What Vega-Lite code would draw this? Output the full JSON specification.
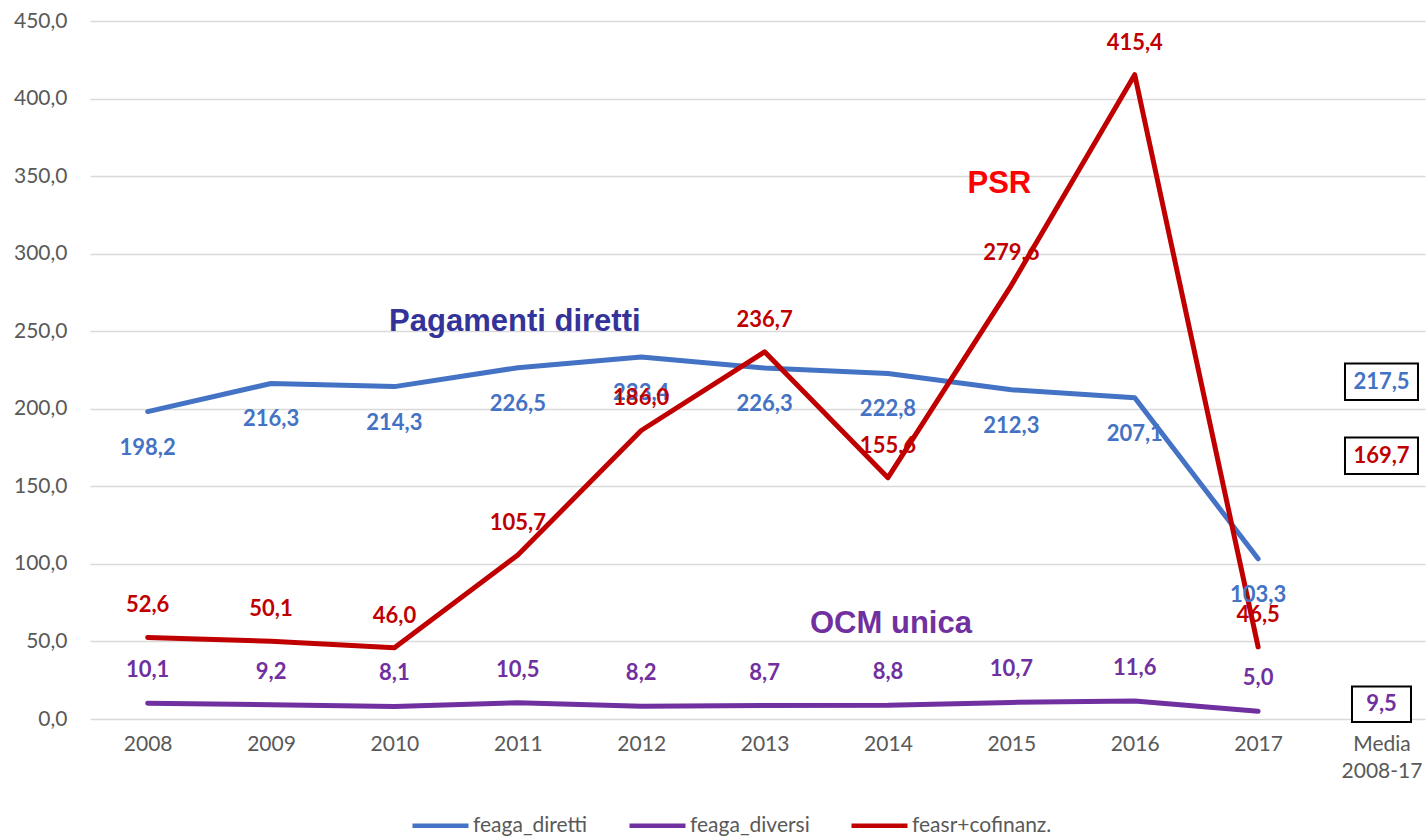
{
  "$schema": "https://vega.github.io/schema/vega-lite/v6.json",
  "autosize": {"type": "none"},
  "width": 1335,
  "height": 698,
  "padding": {"left": 90, "top": 21, "right": 2, "bottom": 119},
  "background": "white",
  "config": {
    "view": {"stroke": null},
    "locale": {"number": {"decimal": ",", "thousands": ".", "grouping": [3], "currency": ["", " €"]}},
    "font": "Lato"
  },
  "datasets": {
    "main": [
      {"year": "2008", "series": "feaga_diretti", "value": 198.2},
      {"year": "2009", "series": "feaga_diretti", "value": 216.3},
      {"year": "2010", "series": "feaga_diretti", "value": 214.3},
      {"year": "2011", "series": "feaga_diretti", "value": 226.5},
      {"year": "2012", "series": "feaga_diretti", "value": 233.4},
      {"year": "2013", "series": "feaga_diretti", "value": 226.3},
      {"year": "2014", "series": "feaga_diretti", "value": 222.8},
      {"year": "2015", "series": "feaga_diretti", "value": 212.3},
      {"year": "2016", "series": "feaga_diretti", "value": 207.1},
      {"year": "2017", "series": "feaga_diretti", "value": 103.3},
      {"year": "2008", "series": "feaga_diversi", "value": 10.1},
      {"year": "2009", "series": "feaga_diversi", "value": 9.2},
      {"year": "2010", "series": "feaga_diversi", "value": 8.1},
      {"year": "2011", "series": "feaga_diversi", "value": 10.5},
      {"year": "2012", "series": "feaga_diversi", "value": 8.2},
      {"year": "2013", "series": "feaga_diversi", "value": 8.7},
      {"year": "2014", "series": "feaga_diversi", "value": 8.8},
      {"year": "2015", "series": "feaga_diversi", "value": 10.7},
      {"year": "2016", "series": "feaga_diversi", "value": 11.6},
      {"year": "2017", "series": "feaga_diversi", "value": 5.0},
      {"year": "2008", "series": "feasr+cofinanz.", "value": 52.6},
      {"year": "2009", "series": "feasr+cofinanz.", "value": 50.1},
      {"year": "2010", "series": "feasr+cofinanz.", "value": 46.0},
      {"year": "2011", "series": "feasr+cofinanz.", "value": 105.7},
      {"year": "2012", "series": "feasr+cofinanz.", "value": 186.0},
      {"year": "2013", "series": "feasr+cofinanz.", "value": 236.7},
      {"year": "2014", "series": "feasr+cofinanz.", "value": 155.6},
      {"year": "2015", "series": "feasr+cofinanz.", "value": 279.6},
      {"year": "2016", "series": "feasr+cofinanz.", "value": 415.4},
      {"year": "2017", "series": "feasr+cofinanz.", "value": 46.5}
    ],
    "media": [
      {"year": "Media 2008-17", "series": "feaga_diretti", "value": 217.5},
      {"year": "Media 2008-17", "series": "feasr+cofinanz.", "value": 169.7},
      {"year": "Media 2008-17", "series": "feaga_diversi", "value": 9.5}
    ],
    "notes": [
      {"year": "2011", "value": 256, "label": "Pagamenti diretti", "kind": "pag"},
      {"year": "2015", "value": 345, "label": "PSR", "kind": "psr"},
      {"year": "2014", "value": 61, "label": "OCM unica", "kind": "ocm"}
    ]
  },
  "encoding": {
    "x": {
      "field": "year", "type": "nominal",
      "scale": {"type": "point", "padding": 0.41, "align": 0.57, "domain": ["2008","2009","2010","2011","2012","2013","2014","2015","2016","2017","Media 2008-17"]},
      "axis": {
        "title": null, "ticks": false, "domain": false, "grid": false,
        "labelFontSize": 21, "labelColor": "#595959", "labelFont": "Lato",
        "labelPadding": 14, "labelLineHeight": 27, "labelAngle": 0, "labelOverlap": false,
        "labelExpr": "datum.value == 'Media 2008-17' ? ['Media','2008-17'] : datum.value"
      }
    },
    "y": {
      "field": "value", "type": "quantitative",
      "scale": {"domain": [0, 450], "nice": false},
      "axis": {
        "title": null, "ticks": false, "domain": false, "values": [0,50,100,150,200,250,300,350,400,450],
        "labelOverlap": false,
        "format": ".1f", "labelFontSize": 21, "labelColor": "#595959", "labelFont": "Lato",
        "labelPadding": 23, "gridColor": "#d9d9d9", "gridWidth": 1.5
      }
    }
  },
  "layer": [
    {
      "data": {"name": "main"},
      "mark": {"type": "line", "strokeWidth": 5, "strokeCap": "round", "strokeJoin": "round"},
      "encoding": {
        "color": {
          "field": "series", "type": "nominal",
          "scale": {"domain": ["feaga_diretti", "feaga_diversi", "feasr+cofinanz."], "range": ["#4472C4", "#7030A0", "#C00000"]},
          "legend": {
            "title": null, "orient": "none", "direction": "horizontal",
            "legendX": 320, "legendY": 774,
            "symbolType": "stroke", "symbolSize": 3136, "symbolStrokeWidth": 4.5,
            "labelFontSize": 21, "labelColor": "#595959", "labelFont": "Lato",
            "columnPadding": 32, "labelOffset": 2
          }
        }
      }
    },
    {
      "data": {"name": "main"},
      "transform": [{"filter": "datum.series == 'feaga_diretti'"}],
      "mark": {"type": "text", "dy": 36, "fontWeight": "bold", "fontSize": 22, "color": "#4472C4", "font": "Lato"},
      "encoding": {"text": {"field": "value", "type": "quantitative", "format": ".1f"}}
    },
    {
      "data": {"name": "main"},
      "transform": [{"filter": "datum.series == 'feasr+cofinanz.'"}],
      "mark": {"type": "text", "dy": -32, "fontWeight": "bold", "fontSize": 22, "color": "#C00000", "font": "Lato"},
      "encoding": {"text": {"field": "value", "type": "quantitative", "format": ".1f"}}
    },
    {
      "data": {"name": "main"},
      "transform": [{"filter": "datum.series == 'feaga_diversi'"}],
      "mark": {"type": "text", "dy": -33, "fontWeight": "bold", "fontSize": 22, "color": "#7030A0", "font": "Lato"},
      "encoding": {"text": {"field": "value", "type": "quantitative", "format": ".1f"}}
    },
    {
      "data": {"name": "media"},
      "transform": [{"filter": "datum.value > 100"}],
      "mark": {"type": "point", "shape": "M-1,-0.5H1V0.5H-1Z", "size": 5329, "filled": false, "stroke": "black", "strokeWidth": 2, "fill": "white", "opacity": 1}
    },
    {
      "data": {"name": "media"},
      "transform": [{"filter": "datum.value < 100"}],
      "mark": {"type": "point", "shape": "M-1,-0.6H1V0.6H-1Z", "size": 3481, "filled": false, "stroke": "black", "strokeWidth": 2, "fill": "white", "opacity": 1}
    },
    {
      "data": {"name": "media"},
      "mark": {"type": "text", "fontWeight": "bold", "fontSize": 22, "font": "Lato"},
      "encoding": {
        "text": {"field": "value", "type": "quantitative", "format": ".1f"},
        "color": {"field": "series", "type": "nominal", "legend": null}
      }
    },
    {
      "data": {"name": "notes"},
      "transform": [{"filter": "datum.kind == 'pag'"}],
      "mark": {"type": "text", "font": "Liberation Sans", "fontWeight": "bold", "fontSize": 31, "color": "#333399", "dx": -3},
      "encoding": {"text": {"field": "label"}}
    },
    {
      "data": {"name": "notes"},
      "transform": [{"filter": "datum.kind == 'psr'"}],
      "mark": {"type": "text", "font": "Liberation Sans", "fontWeight": "bold", "fontSize": 31, "color": "#FF0000", "dx": -12},
      "encoding": {"text": {"field": "label"}}
    },
    {
      "data": {"name": "notes"},
      "transform": [{"filter": "datum.kind == 'ocm'"}],
      "mark": {"type": "text", "font": "Liberation Sans", "fontWeight": "bold", "fontSize": 31, "color": "#7030A0", "dx": 3},
      "encoding": {"text": {"field": "label"}}
    }
  ]
}
